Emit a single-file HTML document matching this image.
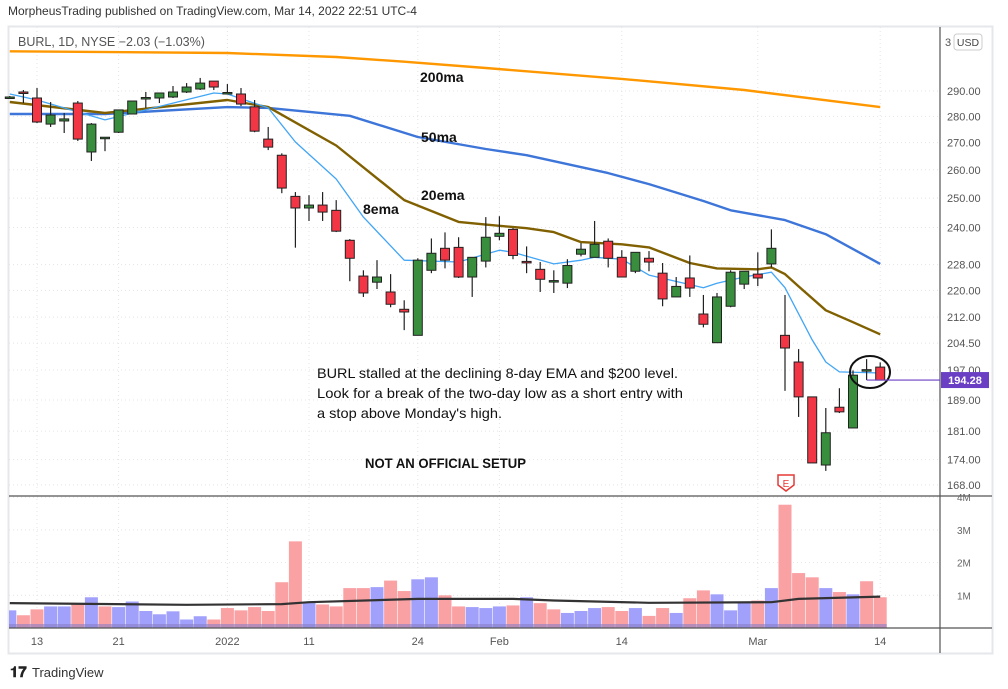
<!DOCTYPE html>
<html><head><meta charset="utf-8"><style>
html,body{margin:0;padding:0;background:#fff;width:1008px;height:689px;overflow:hidden}
svg{display:block;font-family:"Liberation Sans",sans-serif}
</style></head><body>
<svg id="c" width="1008" height="689" viewBox="0 0 1008 689">
<text x="8" y="15" font-size="12" fill="#333">MorpheusTrading published on TradingView.com, Mar 14, 2022 22:51 UTC-4</text>
<rect x="8.5" y="26.5" width="984" height="627" fill="none" stroke="#e6e7ea" stroke-width="2"/>
<g id="grid"></g>
<g id="vol"></g>
<g id="mas"></g>
<g id="candles"></g>
<line x1="940" y1="27" x2="940" y2="653" stroke="#555" stroke-width="1.2"/>
<line x1="9" y1="496" x2="992" y2="496" stroke="#555" stroke-width="1.2"/>
<line x1="9" y1="628" x2="992" y2="628" stroke="#555" stroke-width="1.2"/>
<g id="axes"></g>
<text x="18" y="46" font-size="12.5" fill="#555">BURL, 1D, NYSE  −2.03 (−1.03%)</text>
<text x="945" y="46" font-size="11" fill="#555">3</text>
<rect x="954" y="34" width="28" height="16" rx="3" fill="#fff" stroke="#ccc"/>
<text x="968" y="46" font-size="10.5" fill="#444" text-anchor="middle">USD</text>
<g font-weight="bold" font-size="14" fill="#111">
<text x="420" y="82">200ma</text>
<text x="421" y="142">50ma</text>
<text x="421" y="200">20ema</text>
<text x="363" y="214">8ema</text>
</g>
<g font-size="14" fill="#111">
<text x="317" y="378" textLength="361" lengthAdjust="spacingAndGlyphs">BURL stalled at the declining 8-day EMA and $200 level.</text>
<text x="317" y="398" textLength="366" lengthAdjust="spacingAndGlyphs">Look for a break of the two-day low as a short entry with</text>
<text x="317" y="418" textLength="185" lengthAdjust="spacingAndGlyphs">a stop above Monday's high.</text>
</g>
<text x="365" y="468" font-size="14" font-weight="bold" fill="#111" textLength="161" lengthAdjust="spacingAndGlyphs">NOT AN OFFICIAL SETUP</text>
<ellipse cx="870" cy="372" rx="20" ry="16" fill="none" stroke="#111" stroke-width="2"/>
<path d="M778 475 h16 v10 l-8 6 l-8 -6 z" fill="#fff" stroke="#e53935" stroke-width="1.5"/>
<text x="786" y="487" font-size="10" fill="#e53935" text-anchor="middle">E</text>
<g id="lastp"></g>
<text x="10" y="677" font-size="15" font-weight="bold" fill="#222">𝟏𝟕</text>
<text x="32" y="677" font-size="13" fill="#333">TradingView</text>
</svg>
<script>
// ---- data ----
const startIndex = -2;
const opens  = [287.6,289.6,287.2,277.0,278.2,285.2,266.5,271.5,273.9,280.9,287.0,287.2,287.6,289.6,290.8,294.0,289.0,288.8,283.7,271.3,265.3,250.6,246.6,247.6,245.8,235.8,224.4,222.5,219.5,214.3,206.7,226.2,233.2,233.5,224.1,229.1,237.1,239.4,229.0,226.5,222.6,222.2,231.3,230.3,235.5,230.3,225.9,230.0,225.3,218.0,223.8,212.9,204.6,215.2,221.9,225.0,228.2,206.7,199.2,189.8,172.7,187.1,181.8,196.7,197.8];
const highs  = [288.0,290.4,291.2,285.6,281.3,286.0,277.4,272.1,282.5,286.0,289.6,289.2,292.0,293.2,295.3,294.0,292.8,291.2,286.4,275.9,266.0,252.1,251.0,252.1,249.3,236.2,226.2,229.4,225.0,217.0,230.0,236.4,238.4,236.8,230.3,243.5,243.8,239.8,233.8,228.8,226.2,229.7,234.9,242.2,236.4,232.6,231.9,232.3,228.5,224.1,230.9,218.6,219.2,226.2,225.9,231.9,239.4,218.6,202.8,189.8,186.9,192.1,196.9,200.0,199.1];
const lows   = [287.0,285.2,277.4,275.9,273.6,270.6,263.2,266.8,273.6,280.9,283.3,285.2,287.2,289.2,290.4,290.4,288.8,284.0,273.9,267.2,251.7,233.4,242.2,242.2,238.5,222.8,218.0,220.4,214.9,208.2,206.7,225.3,226.8,223.8,218.0,227.1,235.8,229.7,225.3,219.5,219.2,220.7,230.6,230.3,227.1,224.1,225.3,225.9,215.2,218.0,218.0,209.0,204.6,214.9,220.4,221.3,227.1,191.4,184.6,173.2,171.3,185.6,181.8,194.3,194.3];
const closes = [287.6,289.4,277.8,280.5,279.0,271.3,277.0,272.0,282.5,286.0,287.4,289.2,289.6,291.6,293.2,291.6,289.4,284.8,274.3,268.3,253.5,246.6,247.6,245.2,238.8,230.0,219.2,224.1,215.8,213.5,229.4,231.6,229.4,224.1,230.3,236.8,238.1,230.9,228.6,223.4,223.0,227.7,232.9,234.5,230.0,224.1,231.9,228.8,217.4,221.2,220.7,209.9,218.0,225.6,225.9,223.8,233.2,203.1,189.8,173.2,180.6,185.9,195.6,197.1,194.28];
const volumes = [0.54,0.39,0.57,0.66,0.66,0.74,0.94,0.66,0.64,0.81,0.52,0.42,0.51,0.26,0.36,0.26,0.61,0.54,0.64,0.52,1.40,2.65,0.79,0.72,0.66,1.22,1.22,1.25,1.45,1.13,1.49,1.55,1.00,0.66,0.64,0.61,0.66,0.69,0.94,0.76,0.57,0.46,0.52,0.61,0.64,0.52,0.61,0.37,0.61,0.46,0.91,1.15,1.03,0.54,0.81,0.84,1.22,3.77,1.68,1.55,1.22,1.10,1.03,1.43,0.94];
const volumeUp = [1,0,0,1,1,0,1,0,1,1,1,1,1,1,1,0,0,0,0,0,0,0,1,0,0,0,0,1,0,0,1,1,0,0,1,1,1,0,1,0,0,1,1,1,0,0,1,0,0,1,0,0,1,1,1,0,1,0,0,0,1,0,1,0,0];
const ma200Idx = [-2,14,22,27,33,43,52,62];
const ma200Val = [306.4,305.7,304.0,302.0,299.4,294.9,290.4,283.6];
const ma50Idx = [-2,5,14,17,23,28,33,36,42,45,49,51,55,58,62];
const ma50Val = [280.9,280.9,283.6,283.3,280.2,272.1,267.6,265.3,258.8,254.9,249.0,245.8,242.5,237.8,228.2];
const ema20Idx = [-2,5,14,17,22,27,31,33,36,38,40,43,45,48,50,53,54,55,56,58,60,62];
const ema20Val = [285.6,281.3,286.4,283.6,268.9,249.3,241.9,241.0,239.8,238.5,235.2,234.5,233.5,228.5,226.8,226.5,227.1,225.0,221.2,214.0,210.5,207.0];
const ema8Idx = [-2,0,5,8,13,14,17,19,22,24,27,31,34,35,38,40,41,43,45,49,50,52,54,55,57,58,59,62];
const ema8Val = [288.8,286.4,278.6,282.5,289.2,288.8,283.3,270.2,256.7,243.5,229.4,228.8,232.6,231.9,228.2,229.4,230.3,229.7,224.7,220.8,222.2,224.1,225.6,220.8,205.4,199.2,196.5,196.2];
const volMaIdx = [-2,11,18,20,28,35,38,45,54,56,62];
const volMaVal = [0.76,0.71,0.73,0.79,0.89,0.89,0.84,0.77,0.79,0.89,0.96];
const priceTicks = [290,280,270,260,250,240,228,220,212,204.5,197,189,181,174,168];
const volTicks = [1,2,3,4];
const dateIdx = [0,6,14,20,28,34,43,53,62];
const dateLabels = ["13","21","2022","11","24","Feb","14","Mar","14"];
const lastPrice = 194.28;

// ---- scales ----
const NS = "http://www.w3.org/2000/svg";
const X = i => 37 + i * 13.6;
const Y = p => 91 + (Math.log(290) - Math.log(p)) * 721.6;
const VY = v => 628 - v * 32.7;
function mk(tag, attrs, parent) { const e = document.createElementNS(NS, tag); for (const k in attrs) e.setAttribute(k, attrs[k]); parent.appendChild(e); return e; }
const grid = document.getElementById('grid'), axes = document.getElementById('axes');

priceTicks.forEach(p => {
  const g = mk('line', {x1: 9, x2: 940, y1: Y(p), y2: Y(p), stroke: '#e4e4e4', 'stroke-dasharray': '1 3'}, grid);
  
  
  const t = mk('text', {x: 947, y: Y(p) + 4, 'font-size': 11, fill: '#555'}, axes);
  
  
  t.textContent = p.toFixed(2);
});
volTicks.forEach(v => {
  const g = mk('line', {x1: 9, x2: 940, y1: VY(v), y2: VY(v), stroke: '#e4e4e4', 'stroke-dasharray': '1 3'}, grid);
  
  
  const t = mk('text', {x: 957, y: VY(v) + 4, 'font-size': 10, fill: '#666'}, axes);
  
  
  t.textContent = v + 'M';
});
dateIdx.forEach((d, k) => {
  const g = mk('line', {x1: X(d), x2: X(d), y1: 27, y2: 628, stroke: '#e4e4e4', 'stroke-dasharray': '1 3'}, grid);
  
  
  const t = mk('text', {x: X(d), y: 645, 'font-size': 11, fill: '#555', 'text-anchor': 'middle'}, axes);
  
  
  t.textContent = dateLabels[k];
});

// volume
const vol = document.getElementById('vol');
volumes.forEach((v, k) => {
  const i = startIndex + k, x = X(i) - 6.5;
  if (x + 13 < 9) return;
  const r = mk('rect', {x: Math.max(x, 9), y: VY(v), width: 13 - (Math.max(x, 9) - x), height: 628 - VY(v), fill: volumeUp[k] ? '#a1a1fc' : '#faa1a4'}, vol);
  
  
});
mk('rect', {x: 9, y: 624, width: X(62) + 6.5 - 9, height: 4, fill: '#8a7fc7', opacity: 0.6}, vol);
function line(idx, vals, yf, color, w, name) {
  const pts = idx.map((i, k) => Math.max(X(i), 9).toFixed(1) + ',' + yf(vals[k]).toFixed(1)).join(' ');
  const p = mk('polyline', {points: pts, fill: 'none', stroke: color, 'stroke-width': w, 'stroke-linejoin': 'round'}, document.getElementById('mas'));
  
  
}
line(volMaIdx, volMaVal, VY, '#333', 2.2, 'volume-ma-line');
line(ma200Idx, ma200Val, Y, '#ff9800', 2.4, 'ma200-line');
line(ma50Idx, ma50Val, Y, '#3d75d9', 2.4, 'ma50-line');
line(ema20Idx, ema20Val, Y, '#806000', 2.4, 'ema20-line');
line(ema8Idx, ema8Val, Y, '#42a5f5', 1.3, 'ema8-line');

// candles
const cg = document.getElementById('candles');
opens.forEach((o, k) => {
  const i = startIndex + k, x = X(i), c = closes[k];
  const up = c >= o;
  const w = mk('line', {x1: x, x2: x, y1: Y(highs[k]), y2: Y(lows[k]), stroke: '#222', 'stroke-width': 1.2}, cg);
  
  
  const top = Y(Math.max(o, c)), h = Math.max(Y(Math.min(o, c)) - top, 1.5);
  const b = mk('rect', {x: x - 4.5, y: top, width: 9, height: h, fill: up ? '#388e3c' : '#f23645', stroke: '#222', 'stroke-width': 1}, cg);
  
  
});

// last price
const lp = document.getElementById('lastp');
const ly = Y(lastPrice);
mk('line', {x1: X(61), x2: 940, y1: ly, y2: ly, stroke: '#6a3fc4', 'stroke-width': 1.2}, lp);
mk('rect', {x: 941, y: ly - 8, width: 48, height: 16, fill: '#6a3fc4'}, lp);
const lt = mk('text', {x: 965, y: ly + 4, 'font-size': 11, 'font-weight': 'bold', fill: '#fff', 'text-anchor': 'middle'}, lp);


lt.textContent = lastPrice.toFixed(2);
</script>
</body></html>
